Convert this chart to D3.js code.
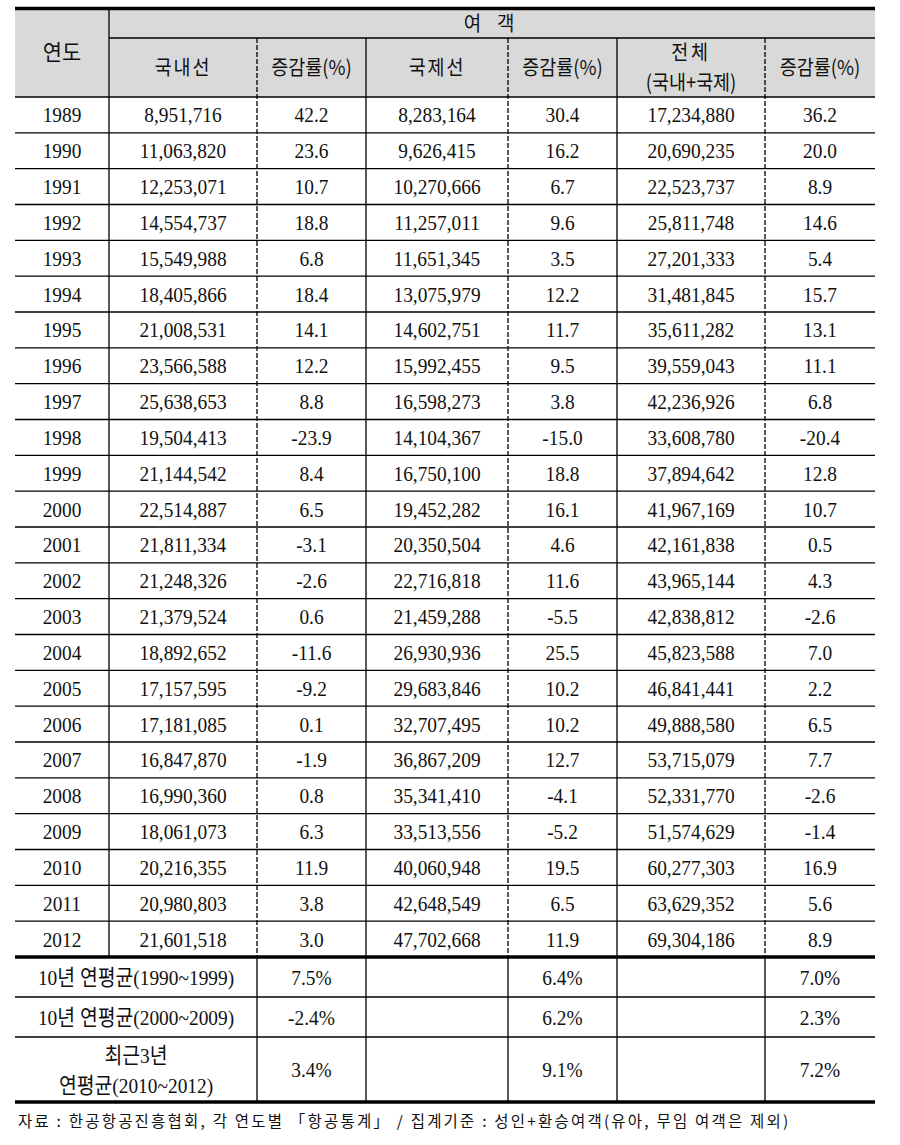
<!DOCTYPE html>
<html>
<head>
<meta charset="utf-8">
<script src="https://cdn.jsdelivr.net/npm/d3@7"></script>
<style>
  body { margin: 0; background: #fff; }
  text { fill: #111; }
</style>
</head>
<body>
<div id="chart"></div>
<script>
const years = [1989, 1990, 1991, 1992, 1993, 1994, 1995, 1996, 1997, 1998, 1999, 2000,
               2001, 2002, 2003, 2004, 2005, 2006, 2007, 2008, 2009, 2010, 2011, 2012];
const domestic = [8951716, 11063820, 12253071, 14554737, 15549988, 18405866, 21008531, 23566588,
                  25638653, 19504413, 21144542, 22514887, 21811334, 21248326, 21379524, 18892652,
                  17157595, 17181085, 16847870, 16990360, 18061073, 20216355, 20980803, 21601518];
const domesticRate = [42.2, 23.6, 10.7, 18.8, 6.8, 18.4, 14.1, 12.2, 8.8, -23.9, 8.4, 6.5,
                      -3.1, -2.6, 0.6, -11.6, -9.2, 0.1, -1.9, 0.8, 6.3, 11.9, 3.8, 3.0];
const international = [8283164, 9626415, 10270666, 11257011, 11651345, 13075979, 14602751, 15992455,
                       16598273, 14104367, 16750100, 19452282, 20350504, 22716818, 21459288, 26930936,
                       29683846, 32707495, 36867209, 35341410, 33513556, 40060948, 42648549, 47702668];
const intlRate = [30.4, 16.2, 6.7, 9.6, 3.5, 12.2, 11.7, 9.5, 3.8, -15.0, 18.8, 16.1,
                  4.6, 11.6, -5.5, 25.5, 10.2, 10.2, 12.7, -4.1, -5.2, 19.5, 6.5, 11.9];
const total = [17234880, 20690235, 22523737, 25811748, 27201333, 31481845, 35611282, 39559043,
               42236926, 33608780, 37894642, 41967169, 42161838, 43965144, 42838812, 45823588,
               46841441, 49888580, 53715079, 52331770, 51574629, 60277303, 63629352, 69304186];
const totalRate = [36.2, 20.0, 8.9, 14.6, 5.4, 15.7, 13.1, 11.1, 6.8, -20.4, 12.8, 10.7,
                   0.5, 4.3, -2.6, 7.0, 2.2, 6.5, 7.7, -2.6, -1.4, 16.9, 5.6, 8.9];

const summaryLabels = [["10년 연평균(1990~1999)"], ["10년 연평균(2000~2009)"], ["최근3년", "연평균(2010~2012)"]];
const summaryDomestic = [7.5, -2.4, 3.4];
const summaryIntl = [6.4, 6.2, 9.1];
const summaryTotal = [7.0, 2.3, 7.2];

const headerTop = "여 객";
const headerCols = [["국내선"], ["증감률(%)"], ["국제선"], ["증감률(%)"], ["전체", "(국내+국제)"], ["증감률(%)"]];
const footnote = "자료 : 한공항공진흥협회, 각 연도별 「항공통계」 / 집계기준 : 성인+환승여객(유아, 무임 여객은 제외)";

const W = 900, H = 1145;
const colEdges = [15, 109, 257, 366, 508, 617, 765, 875];
const dashedAt = [2, 4, 6];
const serif = "'Liberation Serif', 'Times New Roman', 'Noto Sans CJK KR', serif";
const kfont = "'Noto Sans CJK KR', sans-serif";

const svg = d3.select("#chart").append("svg").attr("width", W).attr("height", H);

const xCol = d3.scaleOrdinal().domain(d3.range(7))
  .range(d3.range(7).map(i => (colEdges[i] + colEdges[i + 1]) / 2));
const y = d3.scaleBand().domain(years).range([97, 957]);
const ySum = [957, 997, 1037, 1102];

const locale = d3.formatLocale({ decimal: ".", thousands: ",", grouping: [3], currency: ["", ""], minus: "-" });
const fmtN = locale.format(",");
const fmtR = locale.format(".1f");

// header background
svg.append("rect").attr("x", 15).attr("y", 10).attr("width", 860).attr("height", 87).attr("fill", "#d9d9d9");

function txt(x, yy, s, font, size, sx, ls) {
  svg.append("text")
    .attr("transform", `translate(${x},${yy}) scale(${sx},1)`)
    .attr("text-anchor", "middle")
    .attr("font-family", font)
    .attr("font-size", size)
    .attr("letter-spacing", ls || null)
    .text(s);
}

// header text
txt(62, 60, "연도", kfont, 22, 0.95);
txt((colEdges[1] + colEdges[7]) / 2, 31, headerTop, kfont, 20, 0.95, 6);
headerCols.forEach((lines, i) => {
  const cx = xCol(i + 1);
  if (lines.length === 1) txt(cx, 75, lines[0], kfont, 20.5, 0.9, i % 2 === 0 ? 2 : 0);
  else lines.forEach((l, j) => txt(cx, 60 + j * 30, l, kfont, 20.5, 0.9, j === 0 ? 3 : 0));
});

// data rows
const cols = [years.map(String), domestic.map(fmtN), domesticRate.map(fmtR),
              international.map(fmtN), intlRate.map(fmtR), total.map(fmtN), totalRate.map(fmtR)];
years.forEach((yr, r) => {
  const cy = y(yr) + y.bandwidth() / 2 + 7.5;
  cols.forEach((c, i) => txt(xCol(i), cy, c[r], serif, 22, 0.88));
});

// summary rows
summaryLabels.forEach((lines, r) => {
  const mid = (ySum[r] + ySum[r + 1]) / 2;
  const cx = (colEdges[0] + colEdges[2]) / 2;
  if (lines.length === 1) txt(cx, mid + 7.5, lines[0], serif, 22, 0.88);
  else lines.forEach((l, j) => txt(cx, mid - 7 + j * 30, l, serif, 22, 0.88));
  txt(xCol(2), mid + 7.5, fmtR(summaryDomestic[r]) + "%", serif, 22, 0.88);
  txt(xCol(4), mid + 7.5, fmtR(summaryIntl[r]) + "%", serif, 22, 0.88);
  txt(xCol(6), mid + 7.5, fmtR(summaryTotal[r]) + "%", serif, 22, 0.88);
});

// grid lines
const g = svg.append("g").attr("stroke", "#000").attr("fill", "none");
const hline = (x1, x2, yy, w) => g.append("line").attr("x1", x1).attr("x2", x2)
  .attr("y1", yy).attr("y2", yy).attr("stroke-width", w);
const vline = (x, y1, y2, dashed) => g.append("line").attr("x1", x).attr("x2", x)
  .attr("y1", y1).attr("y2", y2).attr("stroke-width", 1.3)
  .attr("stroke-dasharray", dashed ? "5,2" : null);

hline(colEdges[1], 875, 38, 1.3);
hline(15, 875, 97, 1.3);
years.slice(1).forEach(yr => hline(15, 875, y(yr), 1.3));
hline(15, 875, ySum[1], 1.3);
hline(15, 875, ySum[2], 1.3);

// verticals: header + data
vline(colEdges[1], 10, 957, false);
for (let i = 2; i < 7; i++) {
  vline(colEdges[i], 38, 957, dashedAt.includes(i));
  vline(colEdges[i], 957, 1102, false);
}

// thick rules
hline(15, 875, 8.5, 3.5);
hline(15, 875, 957, 3.5);
hline(15, 875, 1102, 3.5);

// footnote
svg.append("text").attr("x", 18).attr("y", 1127)
  .attr("font-family", kfont).attr("font-size", 15.5)
  .attr("letter-spacing", 2.2)
  .text(footnote);
</script>
</body>
</html>
